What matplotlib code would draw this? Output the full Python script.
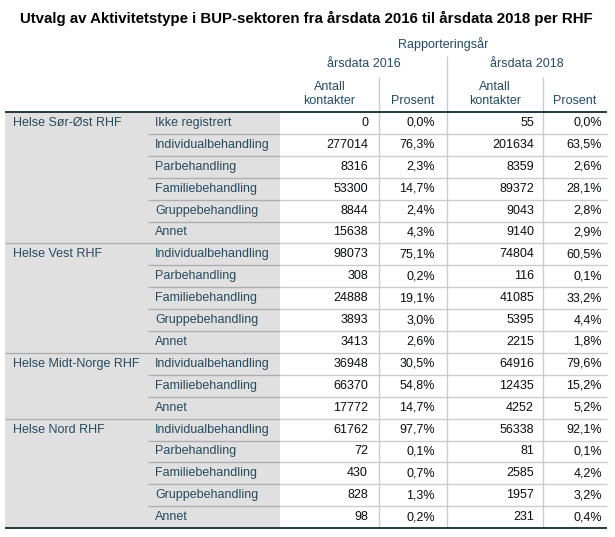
import matplotlib.pyplot as plt
from matplotlib.patches import Rectangle

plt.rcParams['font.family'] = ['Liberation Sans', 'DejaVu Sans']

title = "Utvalg av Aktivitetstype i BUP-sektoren fra årsdata 2016 til årsdata 2018 per RHF"
regions = ["Helse Sør-Øst RHF", "Helse Vest RHF", "Helse Midt-Norge RHF", "Helse Nord RHF"]
categories = [
    ["Ikke registrert", "Individualbehandling", "Parbehandling", "Familiebehandling", "Gruppebehandling", "Annet"],
    ["Individualbehandling", "Parbehandling", "Familiebehandling", "Gruppebehandling", "Annet"],
    ["Individualbehandling", "Familiebehandling", "Annet"],
    ["Individualbehandling", "Parbehandling", "Familiebehandling", "Gruppebehandling", "Annet"],
]
antall_2016 = [0, 277014, 8316, 53300, 8844, 15638,
               98073, 308, 24888, 3893, 3413,
               36948, 66370, 17772,
               61762, 72, 430, 828, 98]
prosent_2016 = [0.0, 76.3, 2.3, 14.7, 2.4, 4.3,
                75.1, 0.2, 19.1, 3.0, 2.6,
                30.5, 54.8, 14.7,
                97.7, 0.1, 0.7, 1.3, 0.2]
antall_2018 = [55, 201634, 8359, 89372, 9043, 9140,
               74804, 116, 41085, 5395, 2215,
               64916, 12435, 4252,
               56338, 81, 2585, 1957, 231]
prosent_2018 = [0.0, 63.5, 2.6, 28.1, 2.8, 2.9,
                60.5, 0.1, 33.2, 4.4, 1.8,
                79.6, 15.2, 5.2,
                92.1, 0.1, 4.2, 3.2, 0.4]
year_labels = ["årsdata 2016", "årsdata 2018"]
header_top = "Rapporteringsår"

label_col = '#264a60'
data_col = '#0a0c10'
line_light = '#cccccc'
line_grey = '#aeaeae'
dark = '#152935'

fig = plt.figure(figsize=(6.15, 5.37), dpi=100)
ax = fig.add_axes([0, 0, 1, 1])
ax.set_xlim(0, 615)
ax.set_ylim(537, 0)
ax.axis('off')

left, cat_x, gray_end, right = 5, 148, 280, 607
col_edges = [280, 379, 447, 543, 607]
row_top, row_h = 112, 21.9
n_rows = len(antall_2016)
bottom = row_top + n_rows * row_h

ax.text(306, 18, title, ha='center', va='center', fontsize=10.8, fontweight='bold', color='black')

# header
ax.text((col_edges[0] + right) / 2, 44, header_top, ha='center', va='center', fontsize=9, color=label_col)
ax.vlines(col_edges[2], 56, bottom, color=line_light, lw=1)
for j, lab in enumerate(year_labels):
    ax.text((col_edges[2 * j] + col_edges[2 * j + 2]) / 2, 64, lab, ha='center', va='center', fontsize=9, color=label_col)
    ax.vlines(col_edges[2 * j + 1], 77, bottom, color=line_light, lw=1)
    ax.text((col_edges[2 * j] + col_edges[2 * j + 1]) / 2, 94, "Antall\nkontakter", ha='center', va='center',
            fontsize=9, color=label_col, linespacing=1.15)
    ax.text((col_edges[2 * j + 1] + col_edges[2 * j + 2]) / 2, 101, "Prosent", ha='center', va='center',
            fontsize=9, color=label_col)

# gray label block
ax.add_patch(Rectangle((left, row_top), gray_end - left, bottom - row_top, color='#e0e0e0', lw=0, zorder=0))

def fmt_pct(v):
    return ("%.1f%%" % v).replace('.', ',')

i = 0
for reg, cats in zip(regions, categories):
    ax.text(13, row_top + i * row_h + row_h / 2, reg, ha='left', va='center', fontsize=9, color=label_col)
    for k, cat in enumerate(cats):
        y0 = row_top + i * row_h
        yc = y0 + row_h / 2
        if i > 0:
            x0 = left if k == 0 else cat_x
            ax.hlines(y0, x0, gray_end, color=line_grey, lw=1)
            ax.hlines(y0, gray_end, right, color=line_light, lw=1)
        ax.text(155, yc, cat, ha='left', va='center', fontsize=9, color=label_col)
        ax.text(368, yc, str(antall_2016[i]), ha='right', va='center', fontsize=9, color=data_col)
        ax.text(435, yc, fmt_pct(prosent_2016[i]), ha='right', va='center', fontsize=9, color=data_col)
        ax.text(534, yc, str(antall_2018[i]), ha='right', va='center', fontsize=9, color=data_col)
        ax.text(602, yc, fmt_pct(prosent_2018[i]), ha='right', va='center', fontsize=9, color=data_col)
        i += 1

ax.hlines(row_top, left, right, color=dark, lw=1.3)
ax.hlines(bottom, left, right, color=dark, lw=1.3)

fig.savefig('out.png', dpi=100)
